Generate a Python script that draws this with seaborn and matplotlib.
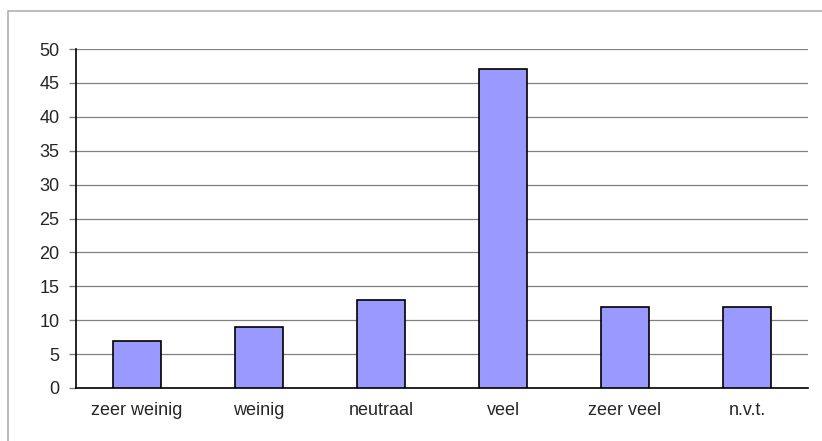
import numpy as np
import pandas as pd
import matplotlib
matplotlib.use('Agg')
import matplotlib.pyplot as plt
import seaborn as sns
from matplotlib.patches import Rectangle

# Data
categories = ['zeer weinig', 'weinig', 'neutraal', 'veel', 'zeer veel', 'n.v.t.']
values = [7, 9, 13, 47, 12, 12]
yticks = list(range(0, 51, 5))

df = pd.DataFrame({'cat': categories, 'val': values})

sns.set_style('white')
plt.rcParams['font.family'] = ['Liberation Sans', 'DejaVu Sans']

fig = plt.figure(figsize=(8.22, 4.41), dpi=100)
ax = fig.add_axes([76 / 822, 1 - 388 / 441, (808 - 76) / 822, (388 - 49) / 441])

# outer chart border (partly cut off in the reference)
fig.patches.append(Rectangle((8 / 822, -0.05), 1.0, 1 - 11 / 441 + 0.05,
                             transform=fig.transFigure, fill=False,
                             edgecolor='#b0b0b0', linewidth=1.2))

sns.barplot(data=df, x='cat', y='val', color='#9999FF', width=0.4,
            edgecolor='black', linewidth=1.2, saturation=1, ax=ax, zorder=3)

ax.set_xlim(-0.5, 5.5)
ax.set_ylim(0, 50)
ax.set_yticks(yticks)
ax.set_yticklabels([str(t) for t in yticks], fontsize=13)
ax.set_xticks(range(len(categories)))
ax.set_xticklabels(categories, fontsize=13)
ax.set_xticks(np.arange(-0.5, 6, 1), minor=True)
ax.tick_params(axis='x', which='major', length=0, pad=10)
ax.tick_params(axis='x', which='minor', length=5, color='#808080', width=1)
ax.tick_params(axis='y', length=5, color='#808080', width=1, pad=7, left=True)
ax.grid(axis='y', color='#808080', linewidth=0.9, zorder=0)
ax.set_axisbelow(True)
ax.set_xlabel('')
ax.set_ylabel('')

for s in ['top', 'right']:
    ax.spines[s].set_visible(False)
ax.spines['left'].set_color('black')
ax.spines['left'].set_linewidth(1.2)
ax.spines['bottom'].set_color('black')
ax.spines['bottom'].set_linewidth(1.2)

fig.savefig('out.png', dpi=100)
